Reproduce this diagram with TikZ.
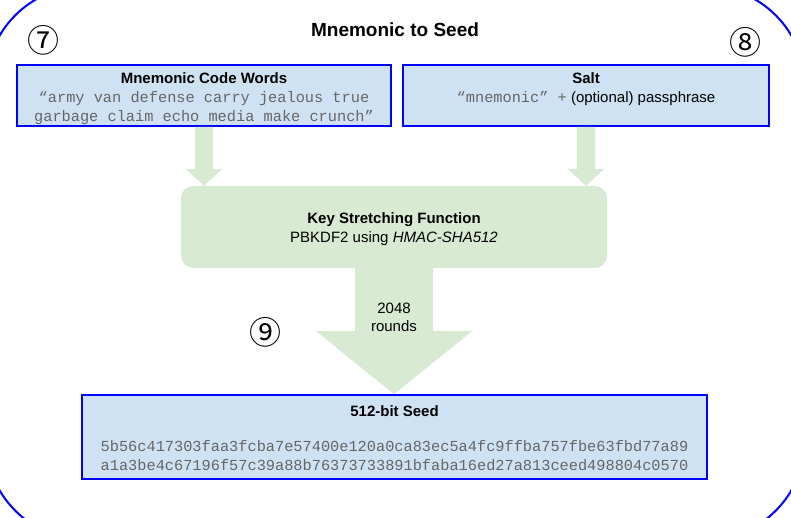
\documentclass[tikz,border=0pt]{standalone}
\usepackage{fontspec}
\setmainfont{Liberation Sans}
\setmonofont{Liberation Mono}
\newfontfamily\circfont{Noto Sans CJK SC}
\usepackage{xcolor}
\usetikzlibrary{positioning, calc}
\definecolor{seedblue}{HTML}{CFE2F3}
\definecolor{stepgreen}{HTML}{D9EAD3}
\definecolor{codegray}{HTML}{666666}
\newcommand{\codetxt}[1]{\textcolor{codegray}{\ttfamily\fontsize{15.3}{19}\selectfont #1}}

\begin{document}
\begin{tikzpicture}[
	  x=1pt, y=1pt,
	  font=\fontsize{15}{19}\selectfont,
	  box/.style={
	    draw=blue,
	    line width=1.6pt,
	    fill=seedblue,
	    align=center,
	    inner sep=0pt
	  },
	  funcbox/.style={fill=stepgreen, rounded corners=12pt, align=center,
	    inner sep=0pt, minimum width=426pt, minimum height=82pt},
	  flow/.style={fill=stepgreen},
	  marker/.style={font=\circfont\fontsize{32}{32}\selectfont, inner sep=0pt},
	  titlelabel/.style={font=\bfseries\fontsize{19}{22}\selectfont}
	]
	\useasboundingbox (0,0) rectangle (791,518);
	\clip (0,0) rectangle (791,518);
	
	% Frame
	\draw[blue, line width=2pt, rounded corners=100pt] (-14,532) rectangle (805,-22);
	
	% Nodes
	\node[titlelabel] (title) at (395,488) {Mnemonic to Seed};
	
	\node[box, minimum width=374pt, minimum height=61pt] (words) at (204,422.5)
	  {\rule{0pt}{17pt}\textbf{Mnemonic Code Words}\\
	   \codetxt{“army van defense carry jealous true}\\
	   \codetxt{garbage claim echo media make crunch”}};
	\node[marker] (m7) at (43,478) {⑦};
	
	\node[box, minimum width=366pt, minimum height=61pt] (salt) at (586,422.5)
	  {\rule{0pt}{18.5pt}\textbf{Salt}\\
	   \codetxt{“mnemonic” +} (optional) passphrase\\
	   \rule[-4.5pt]{0pt}{4.5pt}};
	\node[marker] (m8) at (745,476) {⑧};
	
	\node[funcbox] (stretch) at (394,291)
	  {\rule{0pt}{15pt}\textbf{Key Stretching Function}\\ PBKDF2 using \textit{HMAC-SHA512}};
	
	\node[box, minimum width=625pt, minimum height=84pt] (seed) at (394.5,81)
	  {\rule{0pt}{14pt}\textbf{512-bit Seed}\\[16pt]
	   \codetxt{5b56c417303faa3fcba7e57400e120a0ca83ec5a4fc9ffba757fbe63fbd77a89}\\
	   \codetxt{a1a3be4c67196f57c39a88b76373733891bfaba16ed27a813ceed498804c0570}};
	
	% Block arrows
	\fill[flow] (words.south |- stretch.north) -- ++(-18.5,17) -- ++(9.5,0)
	  -- ([xshift=-9pt]words.south) -- ([xshift=9pt]words.south)
	  -- ([xshift=9pt,yshift=17pt]words.south |- stretch.north) -- ++(9.5,0) -- cycle;
	\fill[flow] (salt.south |- stretch.north) -- ++(-18.5,17) -- ++(9.5,0)
	  -- ([xshift=-9pt]salt.south) -- ([xshift=9pt]salt.south)
	  -- ([xshift=9pt,yshift=17pt]salt.south |- stretch.north) -- ++(9.5,0) -- cycle;
	\fill[flow] (stretch.south |- seed.north) -- ++(-78,63) -- ++(39,0)
	  -- ([xshift=-39pt]stretch.south) -- ([xshift=39pt]stretch.south)
	  -- ([xshift=39pt,yshift=63pt]stretch.south |- seed.north) -- ++(39,0) -- cycle;
	
	\node[align=center, font=\fontsize{15}{18}\selectfont] (rounds) at (394,201) {2048\\rounds};
	\node[marker] (m9) at (265,186) {⑨};
	
	\end{tikzpicture}
\end{document}
